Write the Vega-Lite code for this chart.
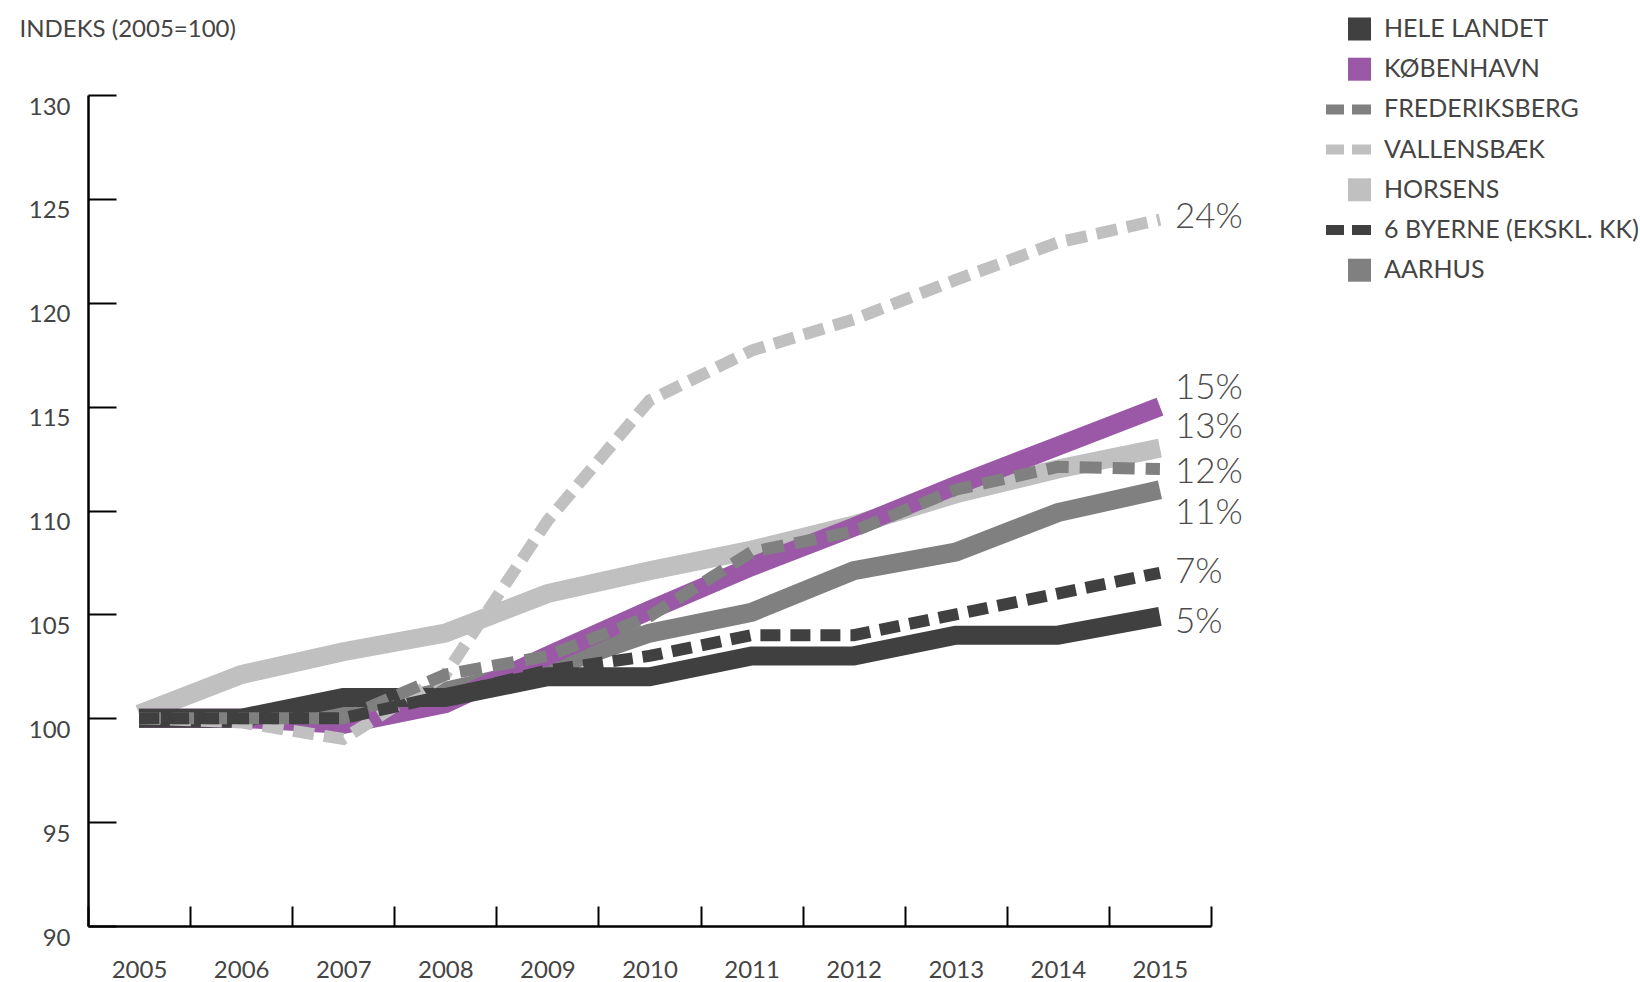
{
  "$schema": "https://vega.github.io/schema/vega-lite/v6.json",
  "autosize": "none",
  "padding": {"left": 88, "top": 95, "right": 429, "bottom": 56},
  "width": 1123,
  "height": 831,
  "config": {"view": {"stroke": null}, "font": "Lato"},
  "datasets": {
    "lines": [
      {"series": "HORSENS", "year": "2005", "value": 100.2},
      {"series": "HORSENS", "year": "2006", "value": 102.1},
      {"series": "HORSENS", "year": "2007", "value": 103.2},
      {"series": "HORSENS", "year": "2008", "value": 104.1},
      {"series": "HORSENS", "year": "2009", "value": 106.0},
      {"series": "HORSENS", "year": "2010", "value": 107.1},
      {"series": "HORSENS", "year": "2011", "value": 108.1},
      {"series": "HORSENS", "year": "2012", "value": 109.3},
      {"series": "HORSENS", "year": "2013", "value": 110.8},
      {"series": "HORSENS", "year": "2014", "value": 112.0},
      {"series": "HORSENS", "year": "2015", "value": 113.0},
      {"series": "AARHUS", "year": "2005", "value": 100},
      {"series": "AARHUS", "year": "2006", "value": 100},
      {"series": "AARHUS", "year": "2007", "value": 100.2},
      {"series": "AARHUS", "year": "2008", "value": 101.3},
      {"series": "AARHUS", "year": "2009", "value": 102.4},
      {"series": "AARHUS", "year": "2010", "value": 104.1},
      {"series": "AARHUS", "year": "2011", "value": 105.1},
      {"series": "AARHUS", "year": "2012", "value": 107.1},
      {"series": "AARHUS", "year": "2013", "value": 108.0},
      {"series": "AARHUS", "year": "2014", "value": 109.9},
      {"series": "AARHUS", "year": "2015", "value": 111.0},
      {"series": "KØBENHAVN", "year": "2005", "value": 100},
      {"series": "KØBENHAVN", "year": "2006", "value": 100},
      {"series": "KØBENHAVN", "year": "2007", "value": 99.7},
      {"series": "KØBENHAVN", "year": "2008", "value": 100.7},
      {"series": "KØBENHAVN", "year": "2009", "value": 103.0},
      {"series": "KØBENHAVN", "year": "2010", "value": 105.2},
      {"series": "KØBENHAVN", "year": "2011", "value": 107.3},
      {"series": "KØBENHAVN", "year": "2012", "value": 109.2},
      {"series": "KØBENHAVN", "year": "2013", "value": 111.2},
      {"series": "KØBENHAVN", "year": "2014", "value": 113.1},
      {"series": "KØBENHAVN", "year": "2015", "value": 115.0},
      {"series": "HELE LANDET", "year": "2005", "value": 100},
      {"series": "HELE LANDET", "year": "2006", "value": 100},
      {"series": "HELE LANDET", "year": "2007", "value": 101},
      {"series": "HELE LANDET", "year": "2008", "value": 101},
      {"series": "HELE LANDET", "year": "2009", "value": 102},
      {"series": "HELE LANDET", "year": "2010", "value": 102},
      {"series": "HELE LANDET", "year": "2011", "value": 103},
      {"series": "HELE LANDET", "year": "2012", "value": 103},
      {"series": "HELE LANDET", "year": "2013", "value": 104},
      {"series": "HELE LANDET", "year": "2014", "value": 104},
      {"series": "HELE LANDET", "year": "2015", "value": 104.9},
      {"series": "VALLENSBÆK", "year": "2005", "value": 100},
      {"series": "VALLENSBÆK", "year": "2006", "value": 99.8},
      {"series": "VALLENSBÆK", "year": "2007", "value": 99.0},
      {"series": "VALLENSBÆK", "year": "2008", "value": 102.1},
      {"series": "VALLENSBÆK", "year": "2009", "value": 109.5},
      {"series": "VALLENSBÆK", "year": "2010", "value": 115.3},
      {"series": "VALLENSBÆK", "year": "2011", "value": 117.7},
      {"series": "VALLENSBÆK", "year": "2012", "value": 119.2},
      {"series": "VALLENSBÆK", "year": "2013", "value": 121.1},
      {"series": "VALLENSBÆK", "year": "2014", "value": 122.9},
      {"series": "VALLENSBÆK", "year": "2015", "value": 124.0},
      {"series": "FREDERIKSBERG", "year": "2005", "value": 100},
      {"series": "FREDERIKSBERG", "year": "2006", "value": 100},
      {"series": "FREDERIKSBERG", "year": "2007", "value": 100},
      {"series": "FREDERIKSBERG", "year": "2008", "value": 102.1},
      {"series": "FREDERIKSBERG", "year": "2009", "value": 103.0},
      {"series": "FREDERIKSBERG", "year": "2010", "value": 104.9},
      {"series": "FREDERIKSBERG", "year": "2011", "value": 108.0},
      {"series": "FREDERIKSBERG", "year": "2012", "value": 109.0},
      {"series": "FREDERIKSBERG", "year": "2013", "value": 111.0},
      {"series": "FREDERIKSBERG", "year": "2014", "value": 112.1},
      {"series": "FREDERIKSBERG", "year": "2015", "value": 112.0},
      {"series": "6 BYERNE (EKSKL. KK)", "year": "2005", "value": 100},
      {"series": "6 BYERNE (EKSKL. KK)", "year": "2006", "value": 100},
      {"series": "6 BYERNE (EKSKL. KK)", "year": "2007", "value": 100},
      {"series": "6 BYERNE (EKSKL. KK)", "year": "2008", "value": 101.1},
      {"series": "6 BYERNE (EKSKL. KK)", "year": "2009", "value": 102.3},
      {"series": "6 BYERNE (EKSKL. KK)", "year": "2010", "value": 103.0},
      {"series": "6 BYERNE (EKSKL. KK)", "year": "2011", "value": 104.0},
      {"series": "6 BYERNE (EKSKL. KK)", "year": "2012", "value": 104.0},
      {"series": "6 BYERNE (EKSKL. KK)", "year": "2013", "value": 105.0},
      {"series": "6 BYERNE (EKSKL. KK)", "year": "2014", "value": 106.0},
      {"series": "6 BYERNE (EKSKL. KK)", "year": "2015", "value": 107.0}
    ],
    "ends": [
      {"series": "VALLENSBÆK", "year": "2015", "value": 124.0, "label": "24%"},
      {"series": "KØBENHAVN", "year": "2015", "value": 115.0, "label": "15%"},
      {"series": "HORSENS", "year": "2015", "value": 113.0, "label": "13%"},
      {"series": "FREDERIKSBERG", "year": "2015", "value": 112.0, "label": "12%"},
      {"series": "AARHUS", "year": "2015", "value": 111.0, "label": "11%"},
      {"series": "6 BYERNE (EKSKL. KK)", "year": "2015", "value": 107.0, "label": "7%"},
      {"series": "HELE LANDET", "year": "2015", "value": 104.9, "label": "5%"}
    ]
  },
  "encoding": {
    "x": {
      "field": "year", "type": "ordinal",
      "scale": {"type": "band", "paddingInner": 0, "paddingOuter": 0},
      "bandPosition": 0.5,
      "axis": {"title": null, "labelAngle": 0, "domainColor": "#000000", "domainWidth": 2.5, "tickColor": "#000000", "tickWidth": 2, "tickSize": -20, "tickBand": "extent", "labelFont": "Lato", "labelFontSize": 24, "labelFontWeight": 400, "labelColor": "#444444", "labelPadding": 52, "labelBaseline": "top"}
    },
    "y": {
      "field": "value", "type": "quantitative",
      "scale": {"domain": [90, 130], "nice": false, "zero": false},
      "axis": {"title": "INDEKS (2005=100)", "titleAngle": 0, "titleX": -69, "titleY": -66, "titleAlign": "left", "titleBaseline": "middle", "titleFont": "Lato", "titleFontSize": 24, "titleFontWeight": 400, "titleColor": "#444444", "values": [90, 95, 100, 105, 110, 115, 120, 125, 130], "grid": false, "domainColor": "#000000", "domainWidth": 2.5, "tickColor": "#000000", "tickWidth": 2, "tickSize": -28, "labelPadding": 46, "labelOffset": 12, "labelFont": "Lato", "labelFontSize": 24, "labelFontWeight": 400, "labelColor": "#444444"}
    }
  },
  "layer": [
    {
      "data": {"name": "lines"},
      "transform": [{"filter": "indexof(['FREDERIKSBERG','VALLENSBÆK','6 BYERNE (EKSKL. KK)'], datum.series) < 0"}],
      "mark": {"type": "line", "strokeWidth": 19, "strokeCap": "butt", "strokeJoin": "miter"},
      "encoding": {
        "color": {
          "field": "series", "type": "nominal",
          "scale": {
            "domain": ["HELE LANDET", "KØBENHAVN", "FREDERIKSBERG", "VALLENSBÆK", "HORSENS", "6 BYERNE (EKSKL. KK)", "AARHUS"],
            "range": ["#404040", "#9a58a7", "#808080", "#c0c0c0", "#c0c0c0", "#404040", "#808080"]
          },
          "legend": {
            "orient": "none", "legendX": 1253, "legendY": -81, "title": null,
            "symbolSize": 900, "symbolStrokeWidth": 0, "symbolType": "square",
            "labelFont": "Lato", "labelFontSize": 25, "labelFontWeight": 400, "labelColor": "#444444", "labelOffset": 13, "labelLimit": 400,
            "rowPadding": 12.2, "padding": 0,
            "encode": {"symbols": {"update": {
              "shape": {"signal": "indexof(['FREDERIKSBERG','VALLENSBÆK','6 BYERNE (EKSKL. KK)'], datum.value) >= 0 ? 'M-2,-0.333H-0.8V0.333H-2Z M-0.267,-0.333H1V0.333H-0.267Z' : 'M-0.533,-0.767H1V0.767H-0.533Z'"},
              "fill": {"scale": "color", "field": "value"},
              "stroke": {"value": "transparent"},
              "strokeWidth": {"value": 0},
              "opacity": {"value": 1}
            }}}
          }
        }
      }
    },
    {
      "data": {"name": "lines"},
      "transform": [{"filter": "indexof(['FREDERIKSBERG','VALLENSBÆK','6 BYERNE (EKSKL. KK)'], datum.series) >= 0"}],
      "mark": {"type": "line", "strokeWidth": 12, "strokeCap": "butt", "strokeJoin": "miter"},
      "encoding": {
        "color": {"field": "series", "type": "nominal"},
        "strokeDash": {
          "field": "series", "type": "nominal", "legend": null,
          "scale": {"domain": ["VALLENSBÆK", "FREDERIKSBERG", "6 BYERNE (EKSKL. KK)"], "range": [[21, 10], [22, 11], [20, 10]]}
        }
      }
    },
    {"data": {"name": "ends"}, "transform": [{"filter": "datum.label === '24%'"}], "mark": {"type": "text", "align": "left", "baseline": "middle", "dx": 15, "dy": -3, "font": "Lato", "fontSize": 35, "fontWeight": 300, "color": "#4d4d4d"}, "encoding": {"text": {"field": "label"}}},
    {"data": {"name": "ends"}, "transform": [{"filter": "datum.label === '15%'"}], "mark": {"type": "text", "align": "left", "baseline": "middle", "dx": 15, "dy": -19, "font": "Lato", "fontSize": 35, "fontWeight": 300, "color": "#4d4d4d"}, "encoding": {"text": {"field": "label"}}},
    {"data": {"name": "ends"}, "transform": [{"filter": "datum.label === '13%'"}], "mark": {"type": "text", "align": "left", "baseline": "middle", "dx": 15, "dy": -21, "font": "Lato", "fontSize": 35, "fontWeight": 300, "color": "#4d4d4d"}, "encoding": {"text": {"field": "label"}}},
    {"data": {"name": "ends"}, "transform": [{"filter": "datum.label === '12%'"}], "mark": {"type": "text", "align": "left", "baseline": "middle", "dx": 15, "dy": 3, "font": "Lato", "fontSize": 35, "fontWeight": 300, "color": "#4d4d4d"}, "encoding": {"text": {"field": "label"}}},
    {"data": {"name": "ends"}, "transform": [{"filter": "datum.label === '11%'"}], "mark": {"type": "text", "align": "left", "baseline": "middle", "dx": 15, "dy": 23, "font": "Lato", "fontSize": 35, "fontWeight": 300, "color": "#4d4d4d"}, "encoding": {"text": {"field": "label"}}},
    {"data": {"name": "ends"}, "transform": [{"filter": "datum.label === '7%'"}], "mark": {"type": "text", "align": "left", "baseline": "middle", "dx": 15, "dy": -1, "font": "Lato", "fontSize": 35, "fontWeight": 300, "color": "#4d4d4d"}, "encoding": {"text": {"field": "label"}}},
    {"data": {"name": "ends"}, "transform": [{"filter": "datum.label === '5%'"}], "mark": {"type": "text", "align": "left", "baseline": "middle", "dx": 15, "dy": 6, "font": "Lato", "fontSize": 35, "fontWeight": 300, "color": "#4d4d4d"}, "encoding": {"text": {"field": "label"}}}
  ]
}
